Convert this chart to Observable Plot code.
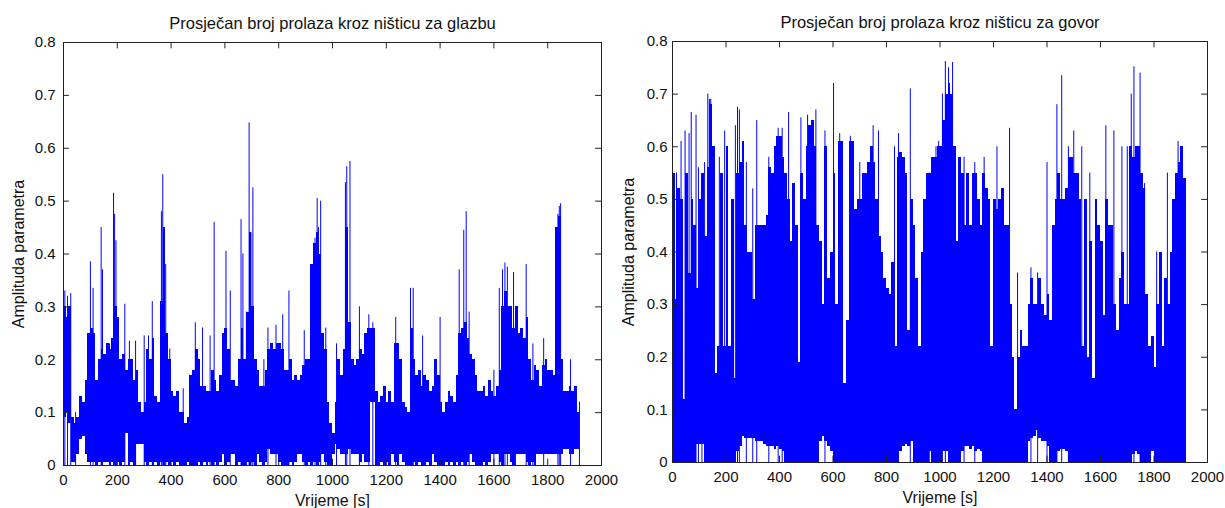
<!DOCTYPE html>
<html>
<head>
<meta charset="utf-8">
<script src="https://cdn.jsdelivr.net/npm/d3@7"></script>
<script src="https://cdn.jsdelivr.net/npm/@observablehq/plot@0.6"></script>
<style>
  html, body { margin: 0; padding: 0; background: #fff; }
  #wrap { display: flex; flex-direction: row; width: 1225px; height: 508px; overflow: hidden; background: #fff; }
  #wrap svg { overflow: visible; }
</style>
</head>
<body>
<div id="wrap"></div>
<script>
// ---------- DATA ----------
const xTicks = [0, 200, 400, 600, 800, 1000, 1200, 1400, 1600, 1800, 2000];
const yTicks = [0, 0.1, 0.2, 0.3, 0.4, 0.5, 0.6, 0.7, 0.8];
const binSize = 10; // seconds per envelope bin
const binStart = d3.range(0, 1920, binSize);

// Music (glazba): upper/lower envelope of dense signal per 10 s bin
const musicHi = [
  0.30,0.28,0.30,0.09,0.08,0.09,0.13,0.12,0.16,0.25,
  0.26,0.25,0.16,0.20,0.22,0.21,0.23,0.22,0.24,0.30,
  0.28,0.20,0.21,0.18,0.20,0.20,0.16,0.18,0.12,0.10,
  0.12,0.22,0.20,0.24,0.13,0.12,0.31,0.45,0.25,0.20,
  0.14,0.13,0.14,0.10,0.10,0.08,0.09,0.17,0.18,0.22,
  0.20,0.15,0.15,0.14,0.14,0.18,0.16,0.14,0.17,0.25,
  0.26,0.22,0.16,0.16,0.15,0.20,0.26,0.20,0.29,0.44,
  0.30,0.20,0.18,0.15,0.15,0.18,0.22,0.23,0.22,0.23,
  0.23,0.22,0.18,0.18,0.20,0.16,0.17,0.16,0.17,0.19,
  0.20,0.20,0.38,0.42,0.44,0.40,0.25,0.22,0.12,0.08,
  0.06,0.12,0.20,0.17,0.22,0.45,0.27,0.20,0.19,0.20,
  0.22,0.21,0.25,0.26,0.26,0.26,0.14,0.12,0.13,0.15,
  0.12,0.14,0.12,0.23,0.23,0.20,0.12,0.11,0.10,0.26,
  0.20,0.17,0.18,0.15,0.17,0.16,0.14,0.15,0.20,0.17,
  0.12,0.10,0.12,0.14,0.13,0.12,0.17,0.25,0.26,0.27,
  0.24,0.21,0.20,0.17,0.14,0.14,0.15,0.13,0.16,0.14,
  0.13,0.15,0.18,0.30,0.33,0.30,0.30,0.26,0.30,0.25,
  0.26,0.24,0.28,0.20,0.16,0.19,0.18,0.15,0.19,0.20,
  0.18,0.18,0.17,0.45,0.47,0.20,0.14,0.14,0.15,0.14,
  0.15,0.10
];
const musicLo = [
  0.09,0.10,0.08,0.005,0.005,0.02,0.05,0.055,0.02,0.005,
  0.005,0.005,0,0.005,0,0.005,0.005,0,0.005,0,
  0.005,0,0.005,0.06,0,0.005,0,0.04,0.04,0.04,
  0.005,0,0.005,0,0.005,0,0.005,0,0.005,0,
  0.005,0,0.005,0,0,0,0.005,0,0,0,
  0.005,0,0.005,0,0.005,0,0.005,0,0.005,0.02,
  0,0.005,0.02,0.02,0,0.005,0,0,0.005,0,
  0.005,0,0.02,0.005,0,0.005,0.03,0.02,0.02,0.02,
  0.005,0,0,0,0.005,0,0.005,0.02,0.02,0.005,
  0,0.005,0,0.005,0,0.005,0.02,0.005,0,0,
  0.02,0.04,0.03,0.02,0.02,0.02,0.03,0.02,0.02,0.02,
  0.005,0.02,0.005,0.005,0.12,0.12,0,0,0.005,0,
  0.005,0,0.02,0.005,0,0.02,0.005,0,0,0,
  0.005,0,0.005,0,0,0.005,0,0.02,0.005,0,
  0,0,0.005,0,0.005,0,0.005,0,0.005,0,
  0.005,0.02,0.005,0,0,0,0.005,0,0.005,0.02,
  0.02,0.02,0.005,0,0.02,0.02,0.005,0,0.02,0.02,
  0.02,0.02,0.005,0,0.005,0,0.02,0.02,0.02,0.02,
  0.02,0.02,0.02,0.02,0.02,0.02,0.03,0.03,0.02,0.02,
  0.03,0.03
];
// Music: isolated peaks [time s, value]
const musicPeaks = [
  [5,0.33],[15,0.32],[27,0.325],[45,0.10],[100,0.385],[110,0.335],[140,0.45],[145,0.37],
  [171,0.23],[186,0.515],[190,0.475],[195,0.425],[228,0.305],[245,0.235],[268,0.235],
  [300,0.245],[316,0.245],[330,0.31],[364,0.48],[369,0.55],[380,0.38],[395,0.22],
  [445,0.145],[490,0.27],[517,0.26],[545,0.245],[560,0.46],[604,0.405],[620,0.33],
  [660,0.465],[667,0.40],[680,0.29],[690,0.648],[697,0.44],[704,0.525],[745,0.20],
  [760,0.26],[790,0.265],[815,0.285],[838,0.33],[895,0.255],[935,0.43],[943,0.505],
  [948,0.45],[956,0.50],[975,0.26],[1015,0.23],[1048,0.535],[1053,0.565],[1065,0.575],
  [1100,0.30],[1135,0.285],[1150,0.27],[1235,0.28],[1290,0.335],[1300,0.335],[1335,0.245],
  [1400,0.28],[1471,0.37],[1488,0.445],[1497,0.48],[1508,0.29],[1600,0.18],[1620,0.335],
  [1632,0.37],[1641,0.383],[1650,0.375],[1673,0.365],[1680,0.27],[1720,0.38],[1745,0.23],
  [1785,0.24],[1838,0.475],[1843,0.49],[1848,0.495],[1885,0.20],[1918,0.12]
];

// Speech (govor)
const speechHi = [
  0.55,0.31,0.52,0.50,0.12,0.55,0.36,0.50,0.45,0.33,
  0.50,0.55,0.43,0.56,0.68,0.60,0.17,0.22,0.55,0.22,
  0.60,0.22,0.50,0.16,0.55,0.57,0.61,0.45,0.40,0.40,
  0.31,0.45,0.45,0.45,0.45,0.47,0.56,0.55,0.60,0.62,
  0.62,0.58,0.55,0.50,0.42,0.53,0.45,0.19,0.55,0.50,
  0.60,0.64,0.65,0.60,0.45,0.42,0.30,0.60,0.35,0.40,
  0.55,0.30,0.61,0.61,0.15,0.27,0.61,0.61,0.48,0.50,
  0.50,0.55,0.55,0.57,0.60,0.57,0.50,0.43,0.40,0.35,
  0.33,0.32,0.38,0.22,0.58,0.59,0.58,0.55,0.25,0.50,
  0.45,0.35,0.22,0.40,0.50,0.55,0.55,0.58,0.58,0.60,
  0.60,0.65,0.70,0.72,0.70,0.60,0.42,0.58,0.55,0.45,
  0.55,0.45,0.55,0.55,0.50,0.45,0.55,0.52,0.50,0.22,
  0.50,0.48,0.50,0.52,0.45,0.45,0.30,0.20,0.10,0.20,
  0.25,0.22,0.22,0.30,0.35,0.30,0.30,0.35,0.30,0.28,
  0.32,0.27,0.45,0.50,0.55,0.50,0.50,0.52,0.58,0.58,
  0.55,0.55,0.50,0.22,0.50,0.20,0.42,0.16,0.50,0.45,
  0.42,0.28,0.50,0.45,0.45,0.30,0.25,0.35,0.40,0.30,
  0.30,0.60,0.58,0.60,0.60,0.55,0.52,0.32,0.22,0.24,
  0.18,0.30,0.40,0.22,0.35,0.30,0.40,0.50,0.55,0.57,
  0.60,0.54
];
const speechLo = [
  0,0,0,0,0,0,0,0,0,0.035,
  0.035,0.035,0,0,0,0,0,0,0,0,
  0,0,0,0,0.02,0.03,0.05,0.045,0.045,0.045,
  0.045,0.04,0.04,0.04,0.035,0.03,0.03,0.03,0.025,0.03,
  0.025,0.02,0,0,0,0,0,0,0,0,
  0,0,0,0,0,0.04,0.05,0.04,0.03,0.02,
  0,0,0,0,0,0,0,0,0,0,
  0,0,0,0,0,0,0,0,0,0,
  0,0,0,0,0,0.02,0.03,0.035,0.03,0.04,
  0,0,0,0,0,0,0.02,0,0,0,
  0,0.02,0.02,0,0,0,0,0,0.02,0.03,
  0.03,0.025,0.03,0.02,0.025,0.02,0,0,0,0,
  0,0,0,0,0,0,0,0,0,0,
  0,0,0,0.04,0.045,0.05,0.06,0.045,0.04,0.04,
  0.03,0,0,0,0.02,0.025,0.025,0.02,0,0,
  0,0,0,0,0,0,0,0,0,0,
  0,0,0,0,0,0,0,0,0,0,
  0,0,0.015,0.02,0.015,0,0,0,0,0.02,
  0,0,0,0,0,0,0,0,0,0,
  0,0
];
const speechPeaks = [
  [0,0.55],[15,0.55],[32,0.61],[47,0.63],[62,0.625],[70,0.665],[88,0.66],[97,0.56],
  [110,0.52],[120,0.57],[132,0.70],[138,0.69],[143,0.69],[175,0.58],[195,0.63],[205,0.57],
  [235,0.64],[243,0.675],[250,0.67],[276,0.57],[300,0.52],[315,0.65],[360,0.58],[395,0.635],
  [410,0.635],[434,0.665],[480,0.655],[505,0.66],[520,0.65],[536,0.67],[570,0.63],[602,0.72],
  [625,0.625],[665,0.62],[700,0.57],[750,0.64],[770,0.63],[830,0.60],[845,0.625],[889,0.71],
  [960,0.55],[985,0.60],[995,0.61],[1009,0.70],[1020,0.762],[1032,0.75],[1047,0.76],[1090,0.58],
  [1130,0.57],[1165,0.58],[1213,0.60],[1260,0.635],[1290,0.36],[1340,0.37],[1365,0.36],[1400,0.57],
  [1437,0.68],[1455,0.735],[1480,0.60],[1500,0.63],[1530,0.60],[1560,0.55],[1620,0.64],[1650,0.63],
  [1680,0.60],[1700,0.60],[1715,0.70],[1725,0.752],[1748,0.74],[1765,0.53],[1810,0.40],[1850,0.55],
  [1890,0.61]
];

const titles = ["Prosječan broj prolaza kroz ništicu za glazbu", "Prosječan broj prolaza kroz ništicu za govor"];
const xLabel = "Vrijeme [s]";
const yLabel = "Amplituda parametra";

// ---------- DRAW ----------
const BLUE = "#0000ff";
const INK = "#111";
function panel(title, hi, lo, peaks, m) {
  const bins = hi.map((h, i) => ({t: binStart[i], t2: binStart[i] + binSize, hi: h, lo: lo[i]}));
  return Plot.plot({
    width: m.width, height: 508,
    marginLeft: m.left, marginRight: m.right, marginTop: m.top, marginBottom: m.bottom,
    style: {fontFamily: "'Liberation Sans', Arial, sans-serif", fontSize: "15px", color: INK, background: "transparent", overflow: "visible"},
    x: {domain: [0, 2000]},
    y: {domain: [0, 0.8]},
    marks: [
      Plot.rect(bins, {x1: "t", x2: "t2", y1: "lo", y2: "hi", fill: BLUE, shapeRendering: "crispEdges"}),
      Plot.ruleX(peaks, {x: d => d[0], y1: 0, y2: d => d[1], stroke: BLUE, strokeWidth: 1}),
      Plot.frame({stroke: "#222"}),
      Plot.ruleX(xTicks, {x: d => d, y1: 0, y2: 0.012, stroke: "#222"}),
      Plot.ruleX(xTicks, {x: d => d, y1: 0.788, y2: 0.8, stroke: "#222"}),
      Plot.ruleY(yTicks, {y: d => d, x1: 0, x2: 22, stroke: "#222"}),
      Plot.ruleY(yTicks, {y: d => d, x1: 1978, x2: 2000, stroke: "#222"}),
      Plot.axisX(xTicks, {tickSize: 0, tickPadding: 9, tickFormat: d => String(d), label: null, fontSize: 15, fill: INK}),
      Plot.axisY(yTicks, {tickSize: 0, tickPadding: m.ypad, tickFormat: d => String(d), label: null, fontSize: 15, fill: INK}),
      Plot.text([title], {frameAnchor: "top", lineAnchor: "middle", dy: -19, fontSize: 16.5, fill: INK}),
      Plot.text([xLabel], {frameAnchor: "bottom", lineAnchor: "middle", dy: 35, fontSize: 16, fill: INK}),
      Plot.text([yLabel], {frameAnchor: "left", textAnchor: "middle", lineAnchor: "middle", dx: m.ylabDx, rotate: -90, fontSize: 16, fill: INK})
    ]
  });
}

const wrap = document.getElementById("wrap");
wrap.append(panel(titles[0], musicHi, musicLo, musicPeaks,
  {width: 612, left: 63, right: 11, top: 42, bottom: 43, ypad: 8, ylabDx: -45}));
wrap.append(panel(titles[1], speechHi, speechLo, speechPeaks,
  {width: 613, left: 60, right: 18, top: 41, bottom: 46, ypad: 5, ylabDx: -44}));
</script>
</body>
</html>
